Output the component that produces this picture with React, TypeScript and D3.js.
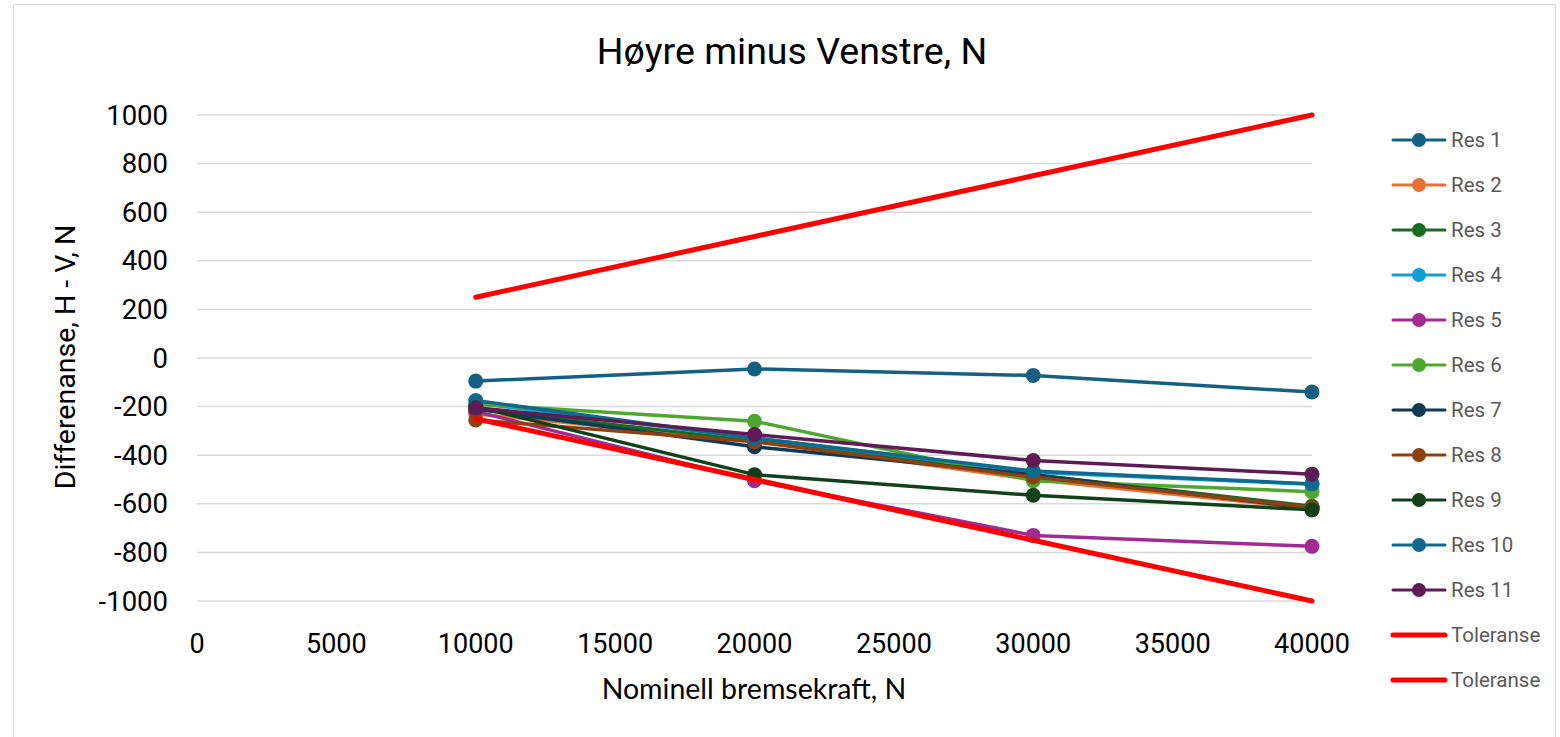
import React from "react";
import * as d3 from "d3";

const xValues = [10000, 20000, 30000, 40000];
const seriesNames = ["Res 1", "Res 2", "Res 3", "Res 4", "Res 5", "Res 6", "Res 7", "Res 8", "Res 9", "Res 10", "Res 11"];
const seriesColors = ["#156082", "#e97132", "#196b24", "#0f9ed5", "#a02b93", "#4ea72e", "#0e3a56", "#8f4010", "#11411a", "#0e6a8c", "#5f1b56"];
const res1 = [-95, -45, -72, -140];
const res2 = [-230, -340, -500, -620];
const res3 = [-210, -340, -480, -610];
const res4 = [-185, -330, -470, -520];
const res5 = [-220, -505, -730, -775];
const res6 = [-190, -260, -505, -550];
const res7 = [-210, -365, -480, -620];
const res8 = [-255, -345, -490, -615];
const res9 = [-200, -480, -565, -625];
const res10 = [-175, -330, -465, -518];
const res11 = [-205, -315, -422, -478];
const seriesValues = [res1, res2, res3, res4, res5, res6, res7, res8, res9, res10, res11];
const tolUpper = [250, 500, 750, 1000];
const tolLower = [-250, -500, -750, -1000];
const xTicks = [0, 5000, 10000, 15000, 20000, 25000, 30000, 35000, 40000];
const yTicks = [-1000, -800, -600, -400, -200, 0, 200, 400, 600, 800, 1000];

const FONT = "Roboto, 'Liberation Sans', Arial, sans-serif";
const FONT2 = "Lato, 'Open Sans', sans-serif";

export default function App() {
  const x = d3.scaleLinear().domain([0, 40000]).range([197, 1312]);
  const y = d3.scaleLinear().domain([-1000, 1000]).range([601, 115]);
  const line = d3
    .line<[number, number]>()
    .x((d) => x(d[0]))
    .y((d) => y(d[1]));

  const legendItems = [
    ...seriesNames.map((n, i) => ({ name: n, color: seriesColors[i], marker: true })),
    { name: "Toleranse", color: "#ff0000", marker: false },
    { name: "Toleranse", color: "#ff0000", marker: false },
  ];

  return (
    <svg
      width={1560}
      height={737}
      style={{ position: "absolute", left: 0, top: 0, background: "#fff" }}
      fontFamily={FONT}
    >
      <rect x={13.5} y={4.5} width={1542} height={740} fill="#fff" stroke="#d9d9d9" />
      <text x={792} y={64} textAnchor="middle" fontSize={37.5} fill="#000">
        Høyre minus Venstre, N
      </text>
      {yTicks.map((t) => (
        <g key={t}>
          <line x1={197} x2={1312} y1={y(t)} y2={y(t)} stroke="#d9d9d9" strokeWidth={1.5} />
          <text x={168} y={y(t) + 9.5} textAnchor="end" fontSize={27.5} fill="#000">
            {t}
          </text>
        </g>
      ))}
      {xTicks.map((t) => (
        <text key={t} x={x(t)} y={653} textAnchor="middle" fontSize={27} fill="#000">
          {t}
        </text>
      ))}
      <text x={754} y={699} textAnchor="middle" fontSize={28.5} fill="#000" fontFamily={FONT2}>
        Nominell bremsekraft, N
      </text>
      <text
        transform={`translate(75,357) rotate(-90)`}
        textAnchor="middle"
        fontSize={28.5}
        fill="#000"
      >
        Differenanse, H - V, N
      </text>
      {seriesValues.map((vals, i) => {
        const pts = vals.map((v, j) => [xValues[j], v] as [number, number]);
        return (
          <g key={seriesNames[i]}>
            <path d={line(pts) || ""} fill="none" stroke={seriesColors[i]} strokeWidth={3.5} strokeLinejoin="round" />
            {pts.map((p, j) => (
              <circle key={j} cx={x(p[0])} cy={y(p[1])} r={7.5} fill={seriesColors[i]} />
            ))}
          </g>
        );
      })}
      {[tolUpper, tolLower].map((vals, i) => (
        <path
          key={i}
          d={line(vals.map((v, j) => [xValues[j], v] as [number, number])) || ""}
          fill="none"
          stroke="#ff0000"
          strokeWidth={5}
          strokeLinecap="round"
        />
      ))}
      {legendItems.map((it, i) => {
        const cy = 140 + i * 45;
        return (
          <g key={i}>
            <line
              x1={1393}
              x2={1445}
              y1={cy}
              y2={cy}
              stroke={it.color}
              strokeWidth={it.marker ? 3 : 5}
              strokeLinecap="round"
            />
            {it.marker && <circle cx={1419} cy={cy} r={7} fill={it.color} />}
            <text x={1451} y={cy + 7} fontSize={20.5} fill="#595959">
              {it.name}
            </text>
          </g>
        );
      })}
    </svg>
  );
}
